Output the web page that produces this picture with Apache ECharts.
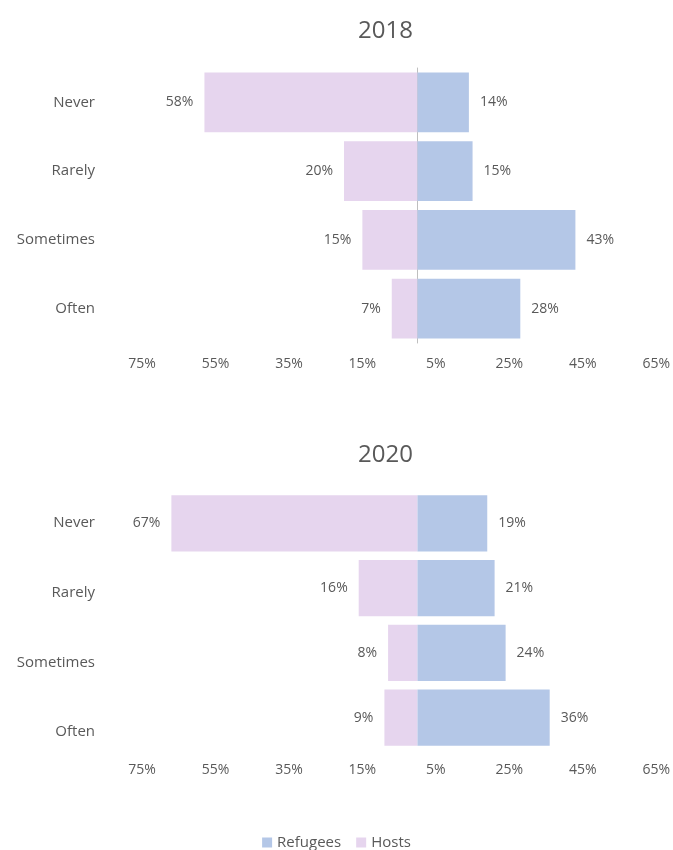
<!DOCTYPE html>
<html>
<head>
<meta charset="utf-8">
<script src="https://cdn.jsdelivr.net/npm/echarts@6/dist/echarts.min.js"></script>
<style>
    html, body {margin: 0; padding: 0; background: #fff;}
    #main {width: 673px; height: 850px;}
</style>
</head>
<body>
<div id="main"></div>
<script>
    var categories = ['Never', 'Rarely', 'Sometimes', 'Often'];
    var years = ['2018', '2020'];
    // percentages, hosts drawn to the left
    var refugees2018 = [14, 15, 43, 28];
    var hosts2018 = [58, 20, 15, 7];
    var refugees2020 = [19, 21, 24, 36];
    var hosts2020 = [67, 16, 8, 9];
    var xTicks = {min: -75, max: 65, interval: 20};

    var textColor = '#595959';
    var font = 'Open Sans';

    function neg(arr) {
        return arr.map(function (v) { return -v; });
    }

    function pctLabel(p) {
        return Math.abs(p.value) + '%';
    }

    function xAxis(gridIndex, margin, show) {
        return {
            type: 'value', gridIndex: gridIndex, show: show,
            min: xTicks.min, max: xTicks.max, interval: xTicks.interval,
            splitLine: {show: false}, axisLine: {show: false}, axisTick: {show: false},
            axisLabel: {
                color: textColor, fontFamily: font, fontSize: 14, margin: margin,
                formatter: function (v) { return Math.abs(v) + '%'; }
            }
        };
    }

    function yAxis(gridIndex, showLine, showLabel) {
        return {
            type: 'category', gridIndex: gridIndex, data: categories, inverse: true,
            axisTick: {show: false},
            axisLine: {show: showLine, onZero: true, lineStyle: {color: '#bfbfbf', width: 1}},
            axisLabel: {show: showLabel, color: textColor, fontFamily: font, fontSize: 15, margin: 47}
        };
    }

    function bars(name, data, idx, color, pos) {
        return {
            name: name, type: 'bar', xAxisIndex: idx, yAxisIndex: idx,
            data: data, barGap: '-100%', barCategoryGap: '13%',
            itemStyle: {color: color},
            label: {
                show: true, position: pos, distance: 11, formatter: pctLabel,
                color: textColor, fontFamily: font, fontSize: 14
            }
        };
    }

    var chart = echarts.init(document.getElementById('main'));
    chart.setOption({
        animation: false,
        title: [
            {text: years[0], left: 353, top: 14, textStyle: {color: textColor, fontFamily: font, fontSize: 24, fontWeight: 'normal'}},
            {text: years[1], left: 353, top: 438, textStyle: {color: textColor, fontFamily: font, fontSize: 24, fontWeight: 'normal'}}
        ],
        legend: {
            data: ['Refugees', 'Hosts'], bottom: -5, left: 'center',
            icon: 'rect', itemWidth: 10, itemHeight: 10, itemGap: 15,
            textStyle: {color: textColor, fontFamily: font, fontSize: 15}
        },
        grid: [
            {left: 142, right: 16, top: 68, height: 275},
            {left: 142, right: 16, top: 491, height: 259},
            // 2020 category labels sit on a slightly taller band than the bars
            {left: 142, right: 16, top: 488, height: 279}
        ],
        xAxis: [xAxis(0, 14, true), xAxis(1, 13, true), xAxis(2, 0, false)],
        yAxis: [yAxis(0, true, true), yAxis(1, false, false), yAxis(2, false, true)],
        series: [
            bars('Hosts', neg(hosts2018), 0, '#e6d5ee', 'left'),
            bars('Refugees', refugees2018, 0, '#b4c7e7', 'right'),
            bars('Hosts', neg(hosts2020), 1, '#e6d5ee', 'left'),
            bars('Refugees', refugees2020, 1, '#b4c7e7', 'right')
        ]
    });
</script>
</body>
</html>
